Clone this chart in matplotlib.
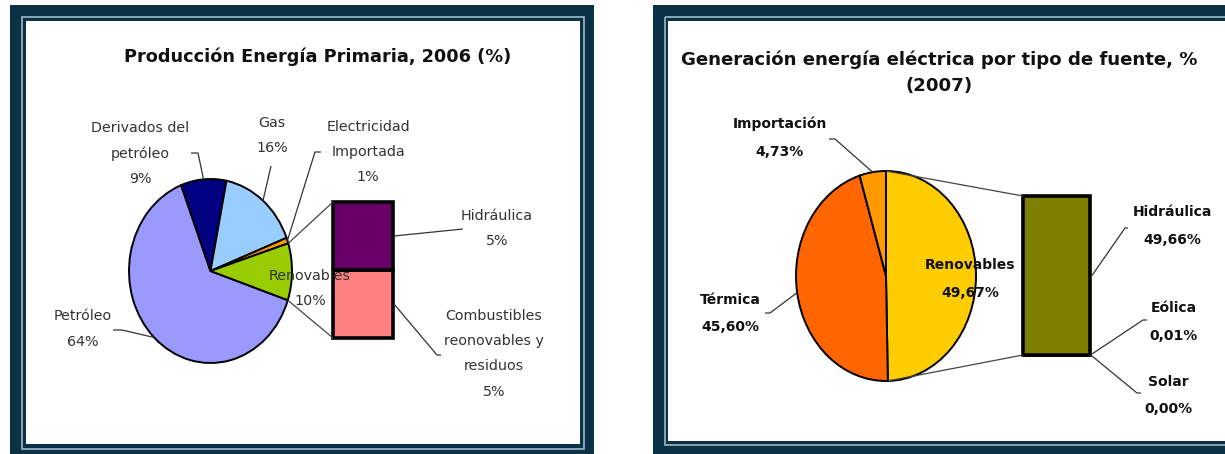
import matplotlib
matplotlib.use('Agg')
import matplotlib.pyplot as plt
import numpy as np
from matplotlib.patches import Rectangle

# ---------------- data ----------------
left_title = "Producción Energía Primaria, 2006 (%)"
left_labels = ["Petróleo", "Derivados del\npetróleo", "Gas", "Electricidad\nImportada", "Renovables"]
left_values = [64, 9, 16, 1, 10]
left_colors = ["#9999FF", "#000080", "#99CCFF", "#FF9900", "#99CC00"]
left_bar_labels = ["Combustibles\nreonovables y\nresiduos", "Hidráulica"]
left_bar_values = [5, 5]
left_bar_colors = ["#FF8080", "#660066"]

right_title = "Generación energía eléctrica por tipo de fuente, %\n(2007)"
right_labels = ["Renovables", "Térmica", "Importación"]
right_values = [49.67, 45.60, 4.73]
right_value_text = ["49,67%", "45,60%", "4,73%"]
right_colors = ["#FFCC00", "#FF6600", "#FF9900"]
right_bar_labels = ["Solar", "Eólica", "Hidráulica"]
right_bar_values = [0.00, 0.01, 49.66]
right_bar_text = ["0,00%", "0,01%", "49,66%"]
right_bar_colors = ["#808000", "#808000", "#808000"]

# ---------------- layout ----------------
W, H = 1225, 454
fig = plt.figure(figsize=(W / 100, H / 100), dpi=100)
fig.patch.set_facecolor("white")
bg = fig.add_axes([0, 0, 1, 1])
bg.set_xlim(0, W)
bg.set_ylim(H, 0)
bg.axis("off")

DARK = "#0B3146"
LIGHT = "#9FB8C6"
FONT = "DejaVu Sans"


def px_axes(x0, y0, x1, y1, z=2):
    a = fig.add_axes([x0 / W, 1 - y1 / H, (x1 - x0) / W, (y1 - y0) / H])
    a.set_zorder(z)
    return a


def panel(x0, y0, x1, y1, ix0, iy0, ix1, iy1, lx0, ly0, lx1, ly1):
    bg.add_patch(Rectangle((x0, y0), x1 - x0, y1 - y0, fc=DARK, ec="none", zorder=0))
    bg.add_patch(Rectangle((lx0, ly0), lx1 - lx0, ly1 - ly0, fc="none", ec=LIGHT, lw=1.2, zorder=1))
    bg.add_patch(Rectangle((ix0, iy0), ix1 - ix0, iy1 - iy0, fc="white", ec="none", zorder=2))


panel(10, 5, 594, 470, 26, 21, 580, 444, 21.5, 16.5, 584, 449)
panel(653, 5, 1260, 470, 668, 21, 1260, 441, 665, 17, 1260, 445)

# overlay axes for text / leader lines (on top of pies)
ov = fig.add_axes([0, 0, 1, 1])
ov.set_xlim(0, W)
ov.set_ylim(H, 0)
ov.axis("off")
ov.set_zorder(10)
ov.patch.set_alpha(0)


def to_px(ax, x, y):
    d = ax.transData.transform((x, y))
    return ov.transData.inverted().transform(d)


def draw_pie(box, values, colors, startangle):
    ax = px_axes(*box)
    wedges, _ = ax.pie(values, colors=colors, startangle=startangle, counterclock=False,
                       radius=1, wedgeprops=dict(edgecolor="black", linewidth=1.4))
    ax.set_aspect("auto")
    ax.set_xlim(-1, 1)
    ax.set_ylim(-1, 1)
    for w in wedges:
        w.set_clip_on(False)
    return ax, wedges


def edge_point(ax, ang):
    return to_px(ax, np.cos(np.radians(ang)), np.sin(np.radians(ang)))


def mid_point(ax, w):
    return edge_point(ax, (w.theta1 + w.theta2) / 2)


def draw_bar(box, values, colors):
    ax = px_axes(*box)
    bottom = 0
    for v, c in zip(values, colors):
        ax.bar(0, v, bottom=bottom, width=1, color=c, edgecolor="black", linewidth=2.6, clip_on=False)
        bottom += v
    ax.set_xlim(-0.5, 0.5)
    ax.set_ylim(0, sum(values))
    ax.axis("off")
    return ax


def leader(pts, color="#333333"):
    xs, ys = zip(*pts)
    ov.plot(xs, ys, color=color, lw=0.9, solid_capstyle="butt")


# ---------------- left chart ----------------
ov.text(318, 57, left_title, ha="center", va="center", fontsize=12.8, fontweight="bold",
        family=FONT, color="#111111")
lax, lw_ = draw_pie((129, 179, 292, 363), left_values, left_colors, -18.5)
lbar = draw_bar((333, 202, 393, 338), left_bar_values, left_bar_colors)

# bar-of-pie connectors
ren = lw_[4]
p_top = edge_point(lax, ren.theta2)
p_bot = edge_point(lax, ren.theta1)
bt = to_px(lbar, -0.5, sum(left_bar_values))
bb = to_px(lbar, -0.5, 0)
leader([p_top, bt], "#444444")
leader([p_bot, bb], "#444444")

LC = "#333333"
fs = 10.3
ls = 2.0
ov.text(140, 153.5, left_labels[1] + "\n%d%%" % left_values[1], ha="center", va="center",
        fontsize=fs, family=FONT, color=LC, linespacing=ls)
leader([(191, 153), (198, 153), tuple(mid_point(lax, lw_[1]))])
ov.text(272, 135.5, left_labels[2] + "\n%d%%" % left_values[2], ha="center", va="center",
        fontsize=fs, family=FONT, color=LC, linespacing=ls)
leader([(271, 166), tuple(mid_point(lax, lw_[2]))])
ov.text(368, 152, left_labels[3] + "\n%d%%" % left_values[3], ha="center", va="center",
        fontsize=fs, family=FONT, color=LC, linespacing=ls)
leader([(321, 152), (315, 152), tuple(mid_point(lax, lw_[3]))])
ov.text(310, 288.5, left_labels[4] + "\n%d%%" % left_values[4], ha="center", va="center",
        fontsize=fs, family=FONT, color=LC, linespacing=ls)
ov.text(83, 329, left_labels[0] + "\n%d%%" % left_values[0], ha="center", va="center",
        fontsize=fs, family=FONT, color=LC, linespacing=ls)
leader([(113, 330), (122, 330), tuple(mid_point(lax, lw_[0]))])

# bar labels
hm = to_px(lbar, 0.5, left_bar_values[0] + left_bar_values[1] / 2)
cm = to_px(lbar, 0.5, left_bar_values[0] / 2)
ov.text(497, 228.5, left_bar_labels[1] + "\n%d%%" % left_bar_values[1], ha="center", va="center",
        fontsize=fs, family=FONT, color=LC, linespacing=ls)
leader([(hm[0] + 1, hm[1]), (463, 229)])
ov.text(494, 354, left_bar_labels[0] + "\n%d%%" % left_bar_values[0], ha="center", va="center",
        fontsize=fs, family=FONT, color=LC, linespacing=ls)
leader([(cm[0] + 1, cm[1]), (437, 355), (441, 355)])

# ---------------- right chart ----------------
ov.text(939, 72.5, right_title, ha="center", va="center", fontsize=13.1, fontweight="bold",
        family=FONT, color="#111111", linespacing=1.55)
rax, rw = draw_pie((796, 171, 976, 381), right_values, right_colors, 90)
rbar = draw_bar((1023, 196, 1090, 355), right_bar_values, right_bar_colors)

rtot = sum(right_bar_values)
p_top = edge_point(rax, rw[0].theta2)
p_bot = edge_point(rax, rw[0].theta1)
leader([p_top, to_px(rbar, -0.5, rtot)], "#444444")
leader([p_bot, to_px(rbar, -0.5, 0)], "#444444")

RC = "#111111"
rfs = 10.0
rls = 2.25
ov.text(970, 279, right_labels[0] + "\n" + right_value_text[0], ha="center", va="center",
        fontsize=rfs, family=FONT, color=RC, fontweight="bold", linespacing=rls)
ov.text(730, 313.5, right_labels[1] + "\n" + right_value_text[1], ha="center", va="center",
        fontsize=rfs, family=FONT, color=RC, fontweight="bold", linespacing=rls)
leader([(765, 313), (770, 313), tuple(mid_point(rax, rw[1]))])
ov.text(780, 138, right_labels[2] + "\n" + right_value_text[2], ha="center", va="center",
        fontsize=rfs, family=FONT, color=RC, fontweight="bold", linespacing=rls)
leader([(829, 139), (835, 139), tuple(mid_point(rax, rw[2]))])

# right bar labels
cum = np.cumsum([0] + right_bar_values)
mids = [to_px(rbar, 0.5, (cum[i] + cum[i + 1]) / 2) for i in range(3)]
ov.text(1172, 226, right_bar_labels[2] + "\n" + right_bar_text[2], ha="center", va="center",
        fontsize=rfs, family=FONT, color=RC, fontweight="bold", linespacing=rls)
leader([(mids[2][0] + 2, mids[2][1]), (1125, 228), (1128, 228)])
ov.text(1174, 322, right_bar_labels[1] + "\n" + right_bar_text[1], ha="center", va="center",
        fontsize=rfs, family=FONT, color=RC, fontweight="bold", linespacing=rls)
leader([(mids[1][0] + 2, mids[1][1] - 1), (1143, 320), (1147, 320)])
ov.text(1168, 395.5, right_bar_labels[0] + "\n" + right_bar_text[0], ha="center", va="center",
        fontsize=rfs, family=FONT, color=RC, fontweight="bold", linespacing=rls)
leader([(mids[0][0] + 2, mids[0][1] + 1), (1137, 393), (1141, 393)])

fig.savefig("out.png", dpi=100, facecolor="white")
